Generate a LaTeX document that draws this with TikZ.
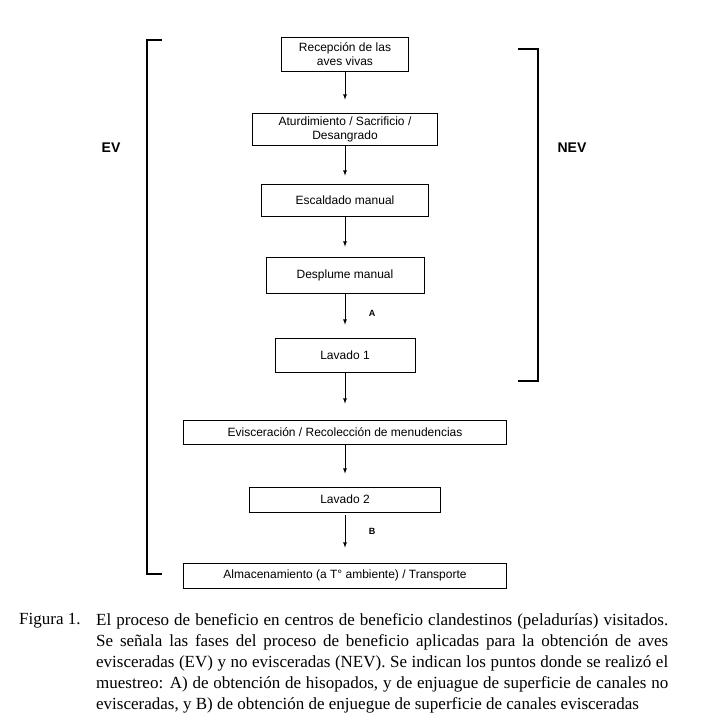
\documentclass[tikz,border=0pt]{standalone}
\usepackage{fontspec}
\setmainfont{Liberation Serif}
\newfontfamily\boxfont{Liberation Sans}
\usetikzlibrary{arrows}
\tikzset{stagebox/.style={draw,line width=.8pt,align=center,inner sep=1pt,
        font=\boxfont\fontsize{12}{14}\selectfont},
    flow/.style={-latex,line width=.8pt,shorten >=13pt},
    bracket/.style={line width=1.8pt}
}

\begin{document}
\begin{tikzpicture}[x=1pt,y=-1pt]
      \useasboundingbox (0,0) rectangle (701,722);
      \node[stagebox,minimum width=127pt,minimum height=34pt] (REC) at (345,54) {Recepción de las\\aves vivas};
      \node[stagebox,minimum width=185pt,minimum height=32pt] (ATU) at (345,129) {Aturdimiento / Sacrificio /\\Desangrado};
      \node[stagebox,minimum width=167pt,minimum height=32pt] (ESC) at (345,200) {Escaldado manual};
      \node[stagebox,minimum width=158pt,minimum height=36pt] (DES) at (345,275) {Desplume manual};
      \node[stagebox,minimum width=140pt,minimum height=34pt] (LV1) at (345,355) {Lavado 1};
      \node[stagebox,minimum width=323pt,minimum height=24pt] (EVI) at (345,432) {Evisceración / Recolección de menudencias};
      \node[stagebox,minimum width=191pt,minimum height=25pt] (LV2) at (345,499.5) {Lavado 2};
      \node[stagebox,minimum width=323pt,minimum height=25pt] (ALM) at (345,575.5) {Almacenamiento (a T° ambiente) / Transporte};

      \draw[flow] (REC.south) -- (ATU.north);
      \draw[flow,shorten >=8pt] (ATU.south) -- (ESC.north);
      \draw[flow,shorten >=10pt] (ESC.south) -- (DES.north);
      \draw[flow] (DES.south) -- (LV1.north);
      \draw[flow,shorten >=16pt] (LV1.south) -- (EVI.north);
      \draw[flow] (EVI.south) -- (LV2.north);
      \draw[flow,shorten <=3pt,shorten >=15pt] (LV2.south) -- (ALM.north);

      \node[font=\boxfont\bfseries\fontsize{9}{9}\selectfont] (A) at (372,313) {A};
      \node[font=\boxfont\bfseries\fontsize{9}{9}\selectfont] (B) at (372,531) {B};

      \draw[bracket] (162,40) -- (147,40) -- (147,574) -- (162,574);
      \draw[bracket] (518,49) -- (538,49) -- (538,381) -- (518,381);
      \node[font=\boxfont\bfseries\fontsize{14}{14}\selectfont] (EV) at (111,148) {EV};
      \node[font=\boxfont\bfseries\fontsize{14}{14}\selectfont] (NEV) at (572,148) {NEV};

      \node[anchor=north west,inner sep=0pt,font=\fontsize{17}{21}\selectfont] (FIG) at (19,613) {Figura 1.};
      \node[anchor=north west,inner sep=0pt,text width=572pt,align=justify,
            font=\fontsize{17}{21}\selectfont] (CAP) at (96,613)
            {El proceso de beneficio en centros de beneficio clandestinos (peladurías) visitados.\linebreak
             Se señala las fases del proceso de beneficio aplicadas para la obtención de aves\linebreak
             evisceradas (EV) y no evisceradas (NEV). Se indican los puntos donde se realizó el\linebreak
             muestreo: A) de obtención de hisopados, y de enjuague de superficie de canales no\linebreak
             evisceradas, y B) de obtención de enjuegue de superficie de canales evisceradas};
\end{tikzpicture}
\end{document}
